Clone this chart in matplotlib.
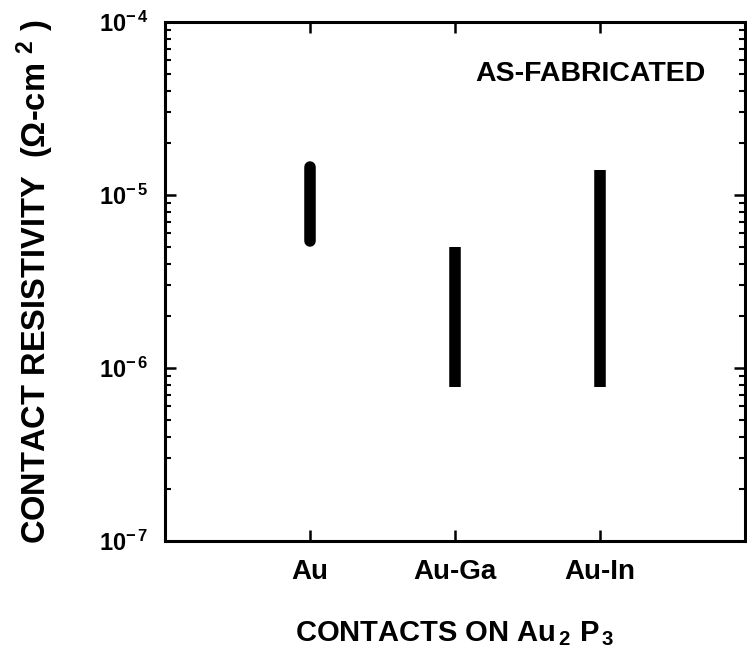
import matplotlib
matplotlib.use("Agg")
import matplotlib.pyplot as plt
from matplotlib.ticker import LogLocator, FixedLocator, FuncFormatter, NullFormatter

plt.rcParams['font.family'] = ['Liberation Sans', 'DejaVu Sans']
plt.rcParams['font.weight'] = 'bold'
plt.rcParams['mathtext.fontset'] = 'custom'
plt.rcParams['mathtext.rm'] = 'Liberation Sans:bold'
plt.rcParams['mathtext.bf'] = 'Liberation Sans:bold'
plt.rcParams['mathtext.it'] = 'Liberation Sans:bold'

# ---- data ----
categories = ['Au', 'Au-Ga', 'Au-In']
low_values = [5.4e-6, 7.7e-7, 7.7e-7]
high_values = [1.45e-5, 5.0e-6, 1.40e-5]
y_decades = [1e-7, 1e-6, 1e-5, 1e-4]
y_exponents = [7, 6, 5, 4]
annotation = 'AS-FABRICATED'

fig = plt.figure(figsize=(7.47, 6.62), dpi=100)
ax = fig.add_axes([0.221, 0.183, 0.776, 0.784])

xpos = [1, 2, 3]
caps = ['round', 'butt', 'butt']
for x, lo, hi, cap in zip(xpos, low_values, high_values, caps):
    ax.plot([x, x], [lo, hi], color='black', lw=8.3, solid_capstyle=cap)

ax.set_yscale('log')
ax.set_ylim(1e-7, 1e-4)
ax.set_xlim(0, 4)

ax.yaxis.set_major_locator(FixedLocator(y_decades))
ax.yaxis.set_minor_locator(LogLocator(base=10, subs=range(2, 10)))
ax.yaxis.set_minor_formatter(NullFormatter())
exp_map = dict(zip(y_decades, y_exponents))
ax.yaxis.set_major_formatter(FuncFormatter(
    lambda v, p: r'$\mathbf{10^{-\,%d}}$' % exp_map.get(v, 0)))

ax.set_xticks(xpos)
ax.set_xticklabels(categories, fontsize=20, fontweight='bold')

ax.tick_params(axis='both', which='major', direction='in', length=8, width=1.8,
               top=True, right=True)
ax.tick_params(axis='y', which='minor', direction='in', length=4, width=1.5,
               left=True, right=True)
ax.tick_params(axis='y', which='major', labelsize=17, pad=12)
ax.tick_params(axis='x', which='major', pad=13)

for s in ax.spines.values():
    s.set_linewidth(2.2)

ax.text(0.932, 0.9, annotation, transform=ax.transAxes, ha='right', va='center',
        fontsize=20.5, fontweight='bold')

ax.set_xlabel(r'CONTACTS ON Au$_{\,2}$ P$_{\,3}$', fontsize=21, fontweight='bold',
              labelpad=25)
ax.set_ylabel(r'CONTACT RESISTIVITY  ($\Omega$-cm $^{2}$ )', fontsize=23.5,
              fontweight='bold', labelpad=31)

fig.savefig('out.png', dpi=100)
